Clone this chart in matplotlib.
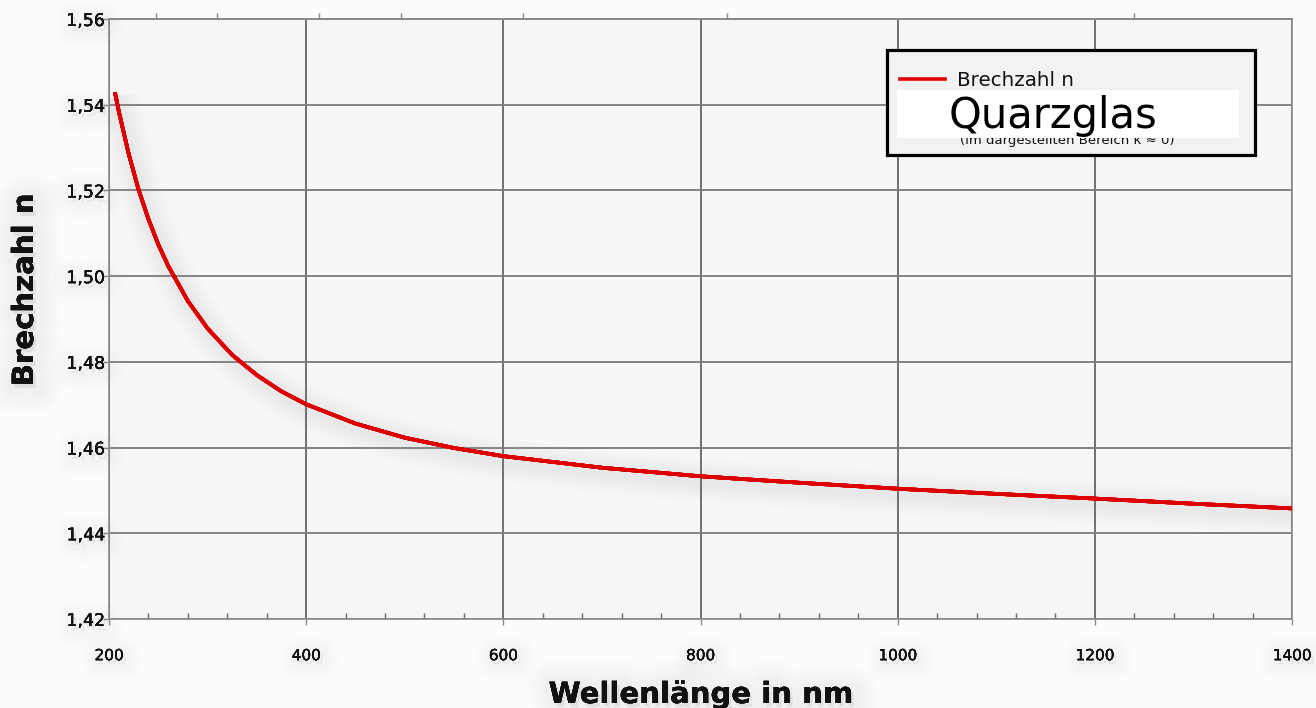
import matplotlib
matplotlib.use("Agg")
import matplotlib.pyplot as plt
import matplotlib.patheffects as pe
from matplotlib.ticker import MultipleLocator, FuncFormatter, FixedLocator
from matplotlib.patches import Rectangle
from matplotlib.lines import Line2D

# Refractive index of fused silica (Quarzglas) over wavelength
wavelength_nm = [206, 210, 220, 230, 240, 250, 260, 280, 300, 325, 350, 375,
                 400, 450, 500, 550, 600, 700, 800, 900, 1000, 1100, 1200,
                 1300, 1400]
refractive_index = [1.5429, 1.5384, 1.5285, 1.5202, 1.5133, 1.5074, 1.5024,
                    1.4942, 1.4878, 1.4816, 1.4769, 1.4731, 1.4701, 1.4656,
                    1.4623, 1.4599, 1.4580, 1.4553, 1.4533, 1.4518, 1.4504,
                    1.4492, 1.4481, 1.4469, 1.4458]

x_ticks = [200, 400, 600, 800, 1000, 1200, 1400]
y_ticks = [1.42, 1.44, 1.46, 1.48, 1.50, 1.52, 1.54, 1.56]
photon_energy_ev = [5, 4, 3, 2.5, 2, 1.5, 1]

series_label = "Brechzahl n"
material = "Quarzglas"
note = "(im dargestellten Bereich κ ≈ 0)"
x_label = "Wellenlänge in nm"
y_label = "Brechzahl n"

W, H = 1316, 708
fig = plt.figure(figsize=(W / 100, H / 100), dpi=100, facecolor="#fcfcfc")
ax = fig.add_axes([109 / W, 1 - 619 / H, (1292 - 109) / W, (619 - 19) / H])
ax.set_facecolor("#f7f7f7")


def soft_shadow(widths=(30, 24, 18, 13, 8), alpha=0.02, color="#8a8a8a",
                offset=(2, -3)):
    return [pe.withStroke(linewidth=w, foreground=color, alpha=alpha, offset=offset)
            for w in widths] + [pe.Normal()]


ax.plot(wavelength_nm, refractive_index, color="#dd0000", lw=2.6,
        solid_capstyle="butt", zorder=5, path_effects=soft_shadow(alpha=0.025))

ax.set_xlim(200, 1400)
ax.set_ylim(1.42, 1.56)
ax.xaxis.set_major_locator(FixedLocator(x_ticks))
ax.yaxis.set_major_locator(FixedLocator(y_ticks))
ax.xaxis.set_minor_locator(MultipleLocator(40))
ax.yaxis.set_major_formatter(FuncFormatter(lambda v, _: f"{v:.2f}".replace(".", ",")))
ax.xaxis.set_major_formatter(FuncFormatter(lambda v, _: f"{v:.0f}"))

ax.grid(True, axis="x", which="major", color="#4a4a4a", lw=1.1)
ax.grid(True, axis="y", which="major", color="#7a7a7a", lw=1.3)
ax.set_axisbelow(True)

for side, spine in ax.spines.items():
    spine.set_color("#8a8a8a")
    spine.set_linewidth(1.2)

ax.tick_params(axis="x", which="major", direction="out", length=4, width=1,
               color="#8a8a8a", pad=17, labelsize=11, top=False)
ax.tick_params(axis="x", which="minor", direction="in", length=4, width=1,
               color="#6a6a6a", top=False)
ax.tick_params(axis="y", which="major", direction="out", length=4, width=1,
               color="#8a8a8a", pad=-1, labelsize=12.5)

# Photon energy ticks along the top edge
to_ev = lambda x: 1239.84 / x
top = ax.secondary_xaxis("top", functions=(to_ev, to_ev))
top.set_xticks(photon_energy_ev)
top.set_xticklabels([])
top.tick_params(direction="out", length=4, width=1, color="#8a8a8a")
top.spines["top"].set_color("#8a8a8a")
top.spines["top"].set_linewidth(1.2)

for lbl in ax.get_xticklabels() + ax.get_yticklabels():
    lbl.set_color("#111111")
    lbl.set_path_effects(soft_shadow(widths=(24, 18, 12, 7), alpha=0.015))

# Axis titles
fig.text(25 / W, 1 - 290 / H, y_label, rotation=90, ha="center", va="center",
         fontsize=21, fontweight="bold", color="#111111",
         path_effects=soft_shadow(widths=(36, 28, 20, 12), alpha=0.02))
fig.text(701 / W, 1 - 703 / H, x_label, ha="center", va="baseline",
         fontsize=21, fontweight="bold", color="#111111",
         path_effects=soft_shadow(widths=(36, 28, 20, 12), alpha=0.02))

# Legend box
fig.patches.append(Rectangle((887 / W, 1 - 155 / H), 368 / W, 105 / H,
                             transform=fig.transFigure, facecolor="#f2f2f2",
                             edgecolor="black", lw=2.3, zorder=10))
fig.lines.append(Line2D([900 / W, 945 / W], [1 - 79 / H, 1 - 79 / H],
                        transform=fig.transFigure, color="#dd0000", lw=2.6,
                        zorder=11))
fig.text(957 / W, 1 - 86 / H, series_label, ha="left", va="baseline",
         fontsize=14.3, color="#111111", zorder=11)
fig.text(1067 / W, 1 - 144 / H, note, ha="center", va="baseline",
         fontsize=9.5, color="#111111", zorder=11)
fig.patches.append(Rectangle((897 / W, 1 - 138 / H), 342 / W, 48 / H,
                             transform=fig.transFigure, facecolor="white",
                             edgecolor="none", zorder=12))
fig.text(1053 / W, 1 - 128 / H, material, ha="center", va="baseline",
         fontsize=30, color="black", zorder=13)

fig.savefig("out.png", dpi=100, facecolor=fig.get_facecolor())
